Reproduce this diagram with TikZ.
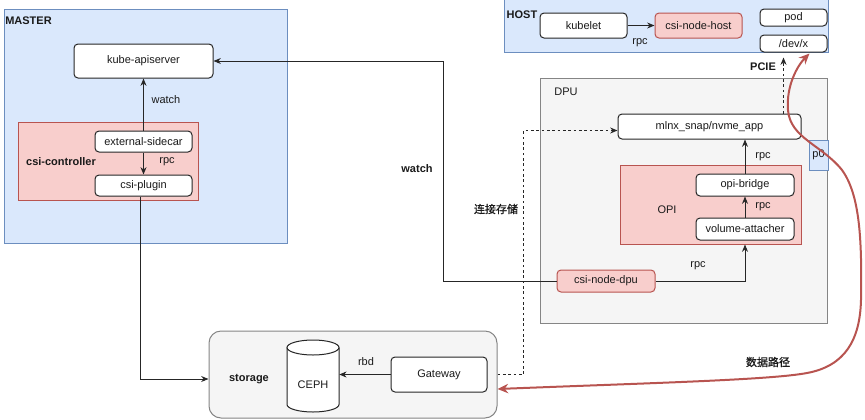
\documentclass[tikz,border=0pt]{standalone}
\usepackage{fontspec}
\setmainfont{Liberation Sans}
\newfontfamily\cjk[FakeBold=1]{Noto Sans CJK SC}
\usetikzlibrary{arrows.meta,calc}
\definecolor{blueF}{HTML}{DAE8FC}
\definecolor{blueS}{HTML}{6C8EBF}
\definecolor{redF}{HTML}{F8CECC}
\definecolor{redS}{HTML}{B85450}
\definecolor{grayF}{HTML}{F5F5F5}
\definecolor{grayS}{HTML}{666666}
\definecolor{txt}{HTML}{1A1A1A}
\begin{document}
\begin{tikzpicture}[x=0.75pt,y=-0.75pt,
  font=\fontsize{8.25}{10}\selectfont, text=txt,
  sz/.style 2 args={minimum width=#1*0.75pt, minimum height=#2*0.75pt, inner sep=0pt},
  box/.style={draw=black!85, fill=white, rounded corners=3pt, line width=0.75pt},
  redrbox/.style={draw=redS, fill=redF, rounded corners=3pt, line width=0.75pt},
  bluebox/.style={draw=blueS, fill=blueF, line width=0.75pt},
  redbox/.style={draw=redS, fill=redF, line width=0.75pt},
  graybox/.style={draw=grayS!80, fill=grayF, line width=0.75pt},
  arr/.style={-{Stealth[length=5.5pt,width=4.5pt]}, line width=0.75pt, draw=black!85},
  dasharr/.style={arr, dash pattern=on 2pt off 2pt},
  redarr/.style={{Stealth[length=8pt,width=7pt]}-{Stealth[length=8pt,width=7pt]}, line width=1.5pt, draw=redS},
  lbl/.style={inner sep=0pt},
  blbl/.style={inner sep=0pt, font=\fontsize{8.25}{10}\selectfont\bfseries}
]
\useasboundingbox (0,0) rectangle (865,419);

% containers
\node[bluebox, sz={283}{234}] (master) at (145.5,126) {};
\node[blbl, anchor=west] (masterl) at (5,21) {MASTER};
\node[bluebox, sz={324}{53}] (host) at (666,25.5) {};
\node[blbl] (hostl) at (522,15) {HOST};
\node[graybox, sz={287}{245}] (dpu) at (683.5,200.5) {};
\node[lbl] (dpul) at (566,92) {DPU};
\node[graybox, rounded corners=9pt, sz={288}{87}] (storage) at (353,374.5) {};
\node[blbl] (storagel) at (249,379) {storage};

% MASTER contents
\node[box, sz={139}{34}] (kube) at (143.5,61) {kube-apiserver};
\node[redbox, sz={180}{78}] (csictl) at (108,161) {};
\node[blbl] (csictll) at (61,162) {csi-controller};
\node[box, sz={97}{21}] (extsc) at (143.5,141.5) {external-sidecar};
\node[box, sz={97}{21}] (csiplugin) at (143.5,185.5) {csi-plugin};

% HOST contents
\node[box, sz={87}{25}] (kubelet) at (583.5,25.5) {kubelet};
\node[redrbox, sz={87}{25}] (csinodehost) at (698.5,25.5) {csi-node-host};
\node[box, sz={67}{17}] (pod) at (793.5,17.5) {pod};
\node[box, sz={67}{17}] (devx) at (793.5,43.5) {/dev/x};

% DPU contents
\node[box, sz={183}{25}] (mlnx) at (709.5,126.5) {mlnx\_snap/nvme\_app};
\node[bluebox, sz={19}{30}] (p0) at (818.5,155) {p0};
\node[redbox, sz={181}{79}] (opi) at (710.5,204.5) {};
\node[lbl] (opil) at (667,210) {OPI};
\node[box, sz={98}{22}] (opibridge) at (745,185) {opi-bridge};
\node[box, sz={98}{22}] (volatt) at (745,229) {volume-attacher};
\node[redrbox, sz={98}{22}] (csinodedpu) at (606,281) {csi-node-dpu};

% storage contents
\node[sz={52}{72}] (ceph) at (313,376) {};
\fill[white] (287,347.5) -- (287,404.5) arc[start angle=180,end angle=0,x radius=26,y radius=7.5]
  -- (339,347.5) arc[start angle=0,end angle=-180,x radius=26,y radius=7.5] -- cycle;
\draw[black!85, line width=0.75pt] (287,347.5) -- (287,404.5) arc[start angle=180,end angle=0,x radius=26,y radius=7.5] -- (339,347.5);
\draw[black!85, line width=0.75pt] (313,347.5) ellipse[x radius=26, y radius=7.5];
\node[lbl] (cephl) at (313,385) {CEPH};
\node[box, sz={96}{35}] (gateway) at (439,374.5) {Gateway};

% connectors
\draw[arr] (extsc.north) -- (kube.south);
\node[lbl] (w1) at (166,100) {watch};
\draw[arr] (extsc.south) -- (csiplugin.north);
\node[lbl] (r1) at (167,162) {rpc};
\draw[arr] ($(csiplugin.south)+(-3.5,0)$) |- ($(storage.west)+(0,4.5)$);

\draw[arr] (kubelet.east) -- (csinodehost.west);
\node[lbl] (r2) at (640,43) {rpc};

\draw[arr] (csinodedpu.west) -- ++(-113,0) |- (kube.east);
\node[blbl] (w2) at (417,169) {watch};

\draw[arr] (csinodedpu.east) -| (volatt.south |- opi.south);
\node[lbl] (r3) at (698,266) {rpc};
\draw[arr] (volatt.north) -- (opibridge.south);
\node[lbl] (r4) at (763,207) {rpc};
\draw[arr] (opibridge.north) -- (opibridge.north |- mlnx.south);
\node[lbl] (r5) at (763,157) {rpc};

\draw[arr] (gateway.west) -- (gateway.west -| ceph.east);
\node[lbl] (rbd) at (366,362) {rbd};

\draw[dasharr] (storage.east) -- ++(26,0) |- ($(mlnx.west)+(0,4)$);
\node[lbl, font=\fontsize{8.25}{10}\selectfont\cjk] (conn) at (496,209) {连接存储};

\draw[dasharr] ($(mlnx.north -| devx.south)+(-10,0)$) -- ($(devx.south)+(-10,5)$);
\node[blbl] (pcie) at (763,67) {PCIE};

% data path
\draw[redarr] ($(storage.east)+(0,14.5)$) .. controls (650,383) and (770,380) .. (807,373)
  .. controls (845,366) and (860,340) .. (861,300)
  .. controls (862,240) and (860,195) .. (842,170)
  .. controls (822,145) and (790,138) .. (788,110)
  .. controls (786,85) and (798,65) .. ($(devx.south)+(16,1)$);
\node[lbl, font=\fontsize{8.25}{10}\selectfont\cjk] (datapath) at (768,362) {数据路径};
\end{tikzpicture}
\end{document}
